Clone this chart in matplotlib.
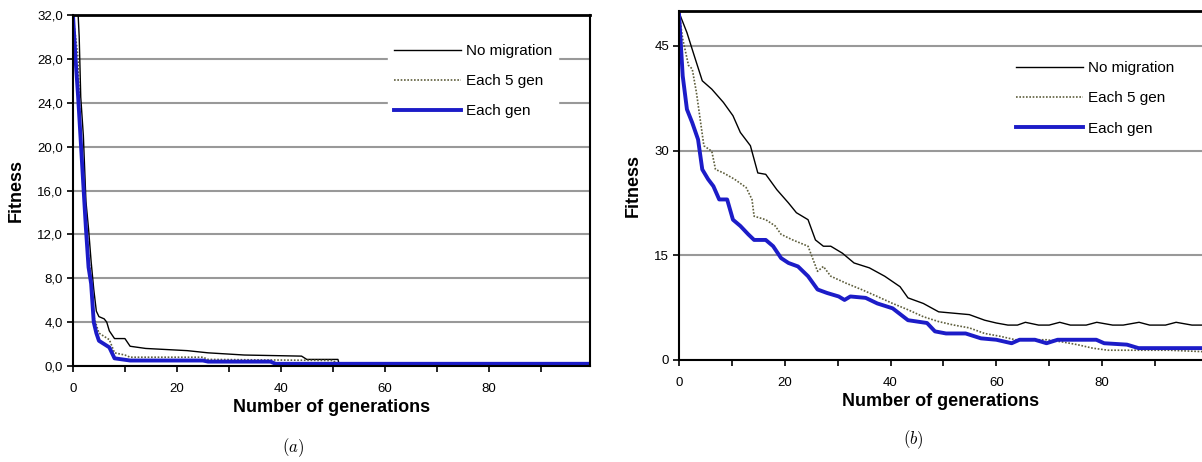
import matplotlib
matplotlib.use("Agg")
import matplotlib.pyplot as plt
from matplotlib.ticker import MultipleLocator

plt.rcParams['font.family'] = ['Liberation Sans', 'DejaVu Sans']
plt.rcParams['mathtext.fontset'] = 'cm'

# ---- panel (a) data ----
a_nomig_x = [0, 1, 1.2, 1.5, 2, 2.5, 3, 3.5, 4, 4.5, 5, 6, 6.5, 7, 8, 10, 11, 14, 22, 26, 33, 44, 45, 51, 51.2, 99.5]
a_nomig_y = [32, 32, 30, 24.5, 21, 15, 12.5, 9.5, 7, 5, 4.5, 4.3, 4.0, 3.2, 2.5, 2.5, 1.8, 1.6, 1.4, 1.2, 1.0, 0.9, 0.6, 0.6, 0.2, 0.2]
a_each5_x = [0, 1, 1.5, 2, 3, 3.5, 4, 5, 6, 7, 8, 10, 11, 25, 26, 50, 51, 99.5]
a_each5_y = [32, 28, 20, 17, 10, 8, 4.5, 3, 2.7, 2.4, 1.2, 1.0, 0.8, 0.8, 0.6, 0.5, 0.2, 0.2]
a_each1_x = [0, 0.5, 1, 1.5, 2, 2.5, 3, 3.5, 4, 4.5, 5, 6, 7, 8, 11, 25, 26, 38, 39, 99.5]
a_each1_y = [32, 28, 24.5, 20.5, 16.5, 12.5, 9, 7.5, 4, 3, 2.3, 2, 1.7, 0.7, 0.5, 0.5, 0.4, 0.4, 0.2, 0.2]
a_yticks = [0, 4, 8, 12, 16, 20, 24, 28, 32]
a_ylabels = ['0,0', '4,0', '8,0', '12,0', '16,0', '20,0', '24,0', '28,0', '32,0']

# ---- panel (b) data ----
b_nomig_x = [0, 1.5, 2.5, 3.3, 4.4, 6.2, 8.4, 10.2, 11.6, 13.5, 14.9, 16.4, 18.5, 20.7, 22.2, 24.4, 25.8,
             27.3, 28.7, 30.9, 33.1, 36, 38.9, 41.8, 43.3, 46.2, 49.1, 52, 54.9, 57.8, 60, 62.2,
             64, 65.5, 68, 70, 72, 74, 77, 79, 82, 84, 87, 89, 92, 94, 97, 98.9]
b_nomig_y = [49.8, 46.9, 44.5, 42.6, 40, 38.8, 36.9, 35, 32.6, 30.7, 26.8, 26.6, 24.4, 22.5, 21.1, 20.1, 17.2,
             16.3, 16.3, 15.3, 13.9, 13.2, 12, 10.5, 8.9, 8.1, 6.9, 6.7, 6.5, 5.7, 5.3, 5.0,
             5.0, 5.4, 5.0, 5.0, 5.4, 5.0, 5.0, 5.4, 5.0, 5.0, 5.4, 5.0, 5.0, 5.4, 5.0, 5.0]
b_each5_x = [0, 0.7, 1.8, 2.5, 3.3, 4, 4.7, 6.2, 6.9, 8.4, 10.5, 12.7, 13.8, 14.2, 16.4, 18.2, 19.3, 21.5,
             24.4, 25.1, 26.2, 27.3, 28.7, 31.6, 34.5, 37.5, 40.4, 43.3, 46.2, 49.1, 52, 54.9,
             57.8, 60.7, 63.6, 66.5, 69.5, 72.4, 75.3, 78.2, 81.1, 87, 92.7, 98.9]
b_each5_y = [49.8, 46, 42.2, 41.7, 38.3, 34.5, 30.7, 29.9, 27.3, 26.8, 25.9, 24.7, 23, 20.6, 20.1, 19.2, 18, 17.2,
             16.3, 14.9, 12.7, 13.4, 12, 11, 10.1, 9.1, 8.1, 7.2, 6.2, 5.5, 5.0, 4.6,
             3.8, 3.4, 2.9, 2.9, 2.9, 2.6, 2.2, 1.7, 1.4, 1.4, 1.4, 1.2]
b_each1_x = [0, 0.7, 1.5, 2.5, 3.6, 4.4, 5.5, 6.5, 7.6, 9.1, 10.2, 11.6, 13.1, 14.2, 16.4, 17.8, 19.3, 20.7,
             22.5, 24.4, 26.2, 28, 30.2, 31.3, 32.4, 35.3, 37.5, 40.4, 43.3, 46.9, 48.4, 50.5, 54.2,
             57.1, 60, 62.9, 64.4, 67.3, 69.5, 71.6, 78.9, 80.4, 84.7, 86.9, 98.9]
b_each1_y = [49.6, 40.7, 35.9, 34, 31.6, 27.3, 25.9, 24.9, 23, 23, 20.1, 19.2, 18, 17.2, 17.2, 16.3, 14.6, 13.9,
             13.4, 12, 10.1, 9.6, 9.1, 8.6, 9.1, 8.9, 8.1, 7.4, 5.7, 5.3, 4.1, 3.8, 3.8,
             3.1, 2.9, 2.4, 2.9, 2.9, 2.4, 2.9, 2.9, 2.4, 2.2, 1.7, 1.7]
b_yticks = [0, 15, 30, 45]
b_ylabels = ['0', '15', '30', '45']

xticks = [0, 20, 40, 60, 80]
labels = ['No migration', 'Each 5 gen', 'Each gen']

fig = plt.figure(figsize=(12.02, 4.62), dpi=100)
ax1 = fig.add_axes([0.0607, 0.2078, 0.4301, 0.7597])
ax2 = fig.add_axes([0.5649, 0.2208, 0.4351, 0.7554])

BLUE = '#1c1cc8'
DOT = '#5e5e3c'


def style(ax, xmax, ymax, yt, yl):
    ax.set_xlim(0, xmax)
    ax.set_ylim(0, ymax)
    ax.set_xticks(xticks)
    ax.xaxis.set_minor_locator(MultipleLocator(10))
    ax.set_yticks(yt)
    ax.set_yticklabels(yl)
    ax.tick_params(axis='both', which='both', direction='out', length=4, width=1.2,
                   labelsize=9.5, pad=3, color='black')
    ax.tick_params(axis='x', which='both', pad=8)
    ax.yaxis.grid(True, color='#999999', linewidth=1.5)
    ax.set_axisbelow(True)
    for s in ['left', 'bottom']:
        ax.spines[s].set_linewidth(1.5)
    ax.spines['top'].set_linewidth(2)
    ax.set_xlabel('Number of generations', fontsize=13, fontweight='bold', labelpad=3)
    ax.set_ylabel('Fitness', fontsize=13, fontweight='bold', labelpad=9)


legend_kw = dict(loc='upper left', frameon=True, fancybox=False, edgecolor='white',
                 facecolor='white', framealpha=1, fontsize=11, handlelength=4.4,
                 handletextpad=0.3, labelspacing=1.05, borderaxespad=0)

# panel (a)
ax1.plot(a_nomig_x, a_nomig_y, color='black', lw=1.0, label=labels[0])
ax1.plot(a_each5_x, a_each5_y, color=DOT, lw=1.2, ls=(0, (1, 1)), label=labels[1])
ax1.plot(a_each1_x, a_each1_y, color=BLUE, lw=2.8, label=labels[2])
style(ax1, 99.5, 32, a_yticks, a_ylabels)
ax1.spines['right'].set_linewidth(1.5)
ax1.legend(bbox_to_anchor=(0.609, 0.934), **legend_kw)

# panel (b)
ax2.plot(b_nomig_x, b_nomig_y, color='black', lw=1.0, label=labels[0])
ax2.plot(b_each5_x, b_each5_y, color=DOT, lw=1.2, ls=(0, (1, 1)), label=labels[1])
ax2.plot(b_each1_x, b_each1_y, color=BLUE, lw=2.8, label=labels[2])
style(ax2, 98.9, 50, b_yticks, b_ylabels)
ax2.spines['right'].set_visible(False)
ax2.legend(bbox_to_anchor=(0.633, 0.873), **legend_kw)

fig.text(293 / 1202, 1 - 448 / 462, r'$(a)$', fontsize=12, ha='center', va='center')
fig.text(913 / 1202, 1 - 440 / 462, r'$(b)$', fontsize=12, ha='center', va='center')

fig.savefig('out.png', dpi=100)
